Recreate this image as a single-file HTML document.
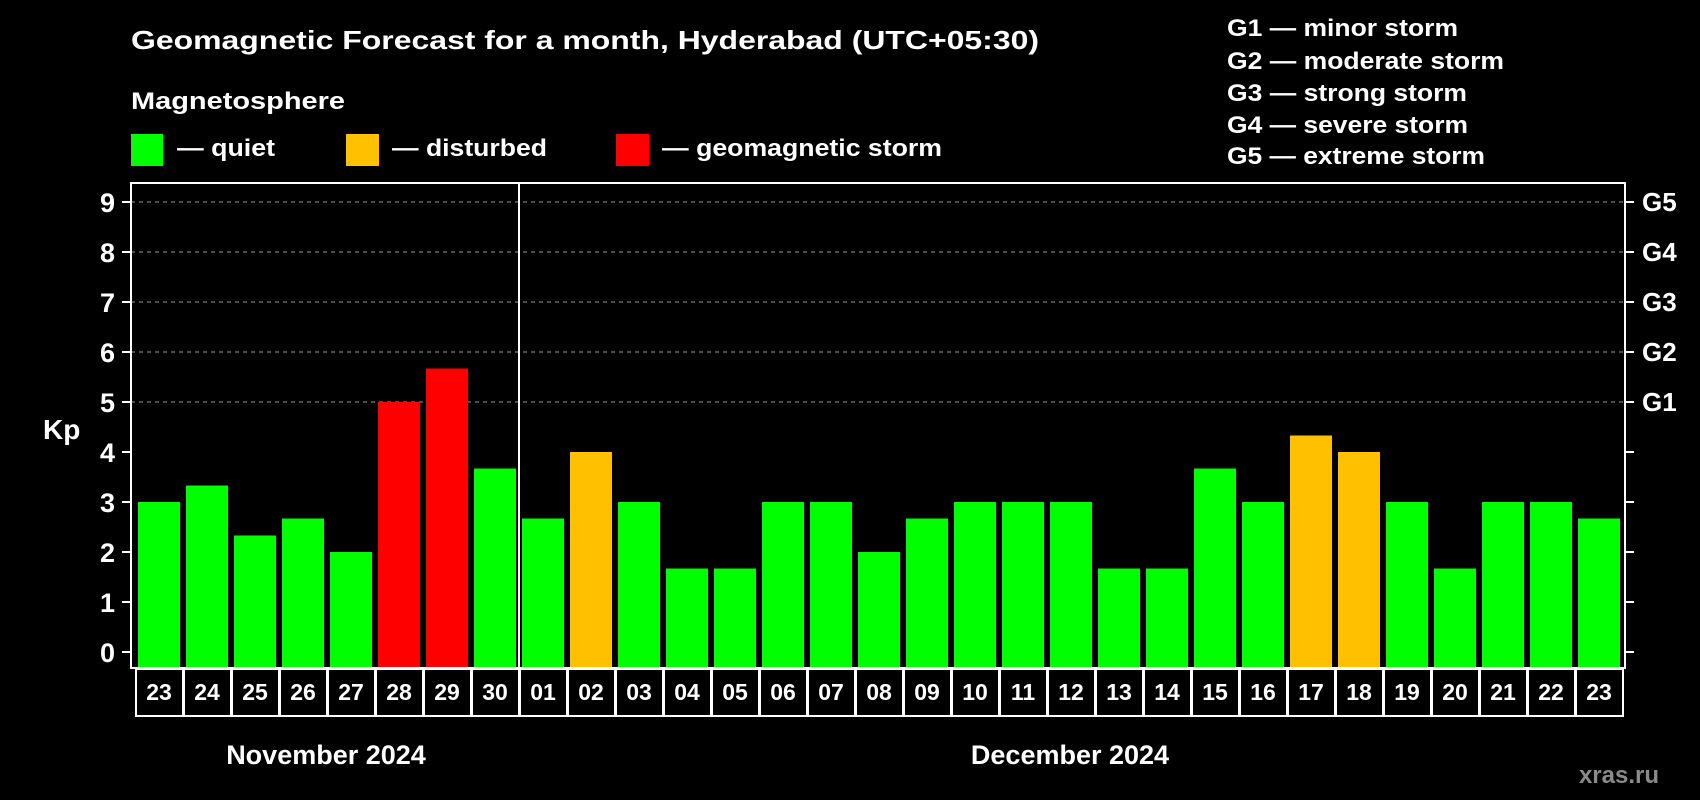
<!DOCTYPE html>
<html><head><meta charset="utf-8"><style>
html,body{margin:0;padding:0;background:#000;}
svg{display:block;font-family:"Liberation Sans",Arial,sans-serif;font-weight:bold;}
</style></head><body>
<svg id="chart" width="1700" height="800" viewBox="0 0 1700 800" xmlns="http://www.w3.org/2000/svg">
<rect width="1700" height="800" fill="#000"/>
<text x="131" y="49" fill="#fff" font-size="26" textLength="908" lengthAdjust="spacingAndGlyphs">Geomagnetic Forecast for a month, Hyderabad (UTC+05:30)</text>
<text x="131" y="109" fill="#fff" font-size="24" textLength="214" lengthAdjust="spacingAndGlyphs">Magnetosphere</text>
<g>
<rect x="131" y="134" width="32" height="32" fill="#00ff00"/>
<text x="177" y="156" fill="#fff" font-size="24" textLength="98" lengthAdjust="spacingAndGlyphs">— quiet</text></g>
<g>
<rect x="346" y="134" width="33" height="32" fill="#ffc000"/>
<text x="392" y="156" fill="#fff" font-size="24" textLength="155" lengthAdjust="spacingAndGlyphs">— disturbed</text></g>
<g>
<rect x="616" y="134" width="33" height="32" fill="#ff0000"/>
<text x="662" y="156" fill="#fff" font-size="24" textLength="280" lengthAdjust="spacingAndGlyphs">— geomagnetic storm</text></g>
<g font-size="24" fill="#fff">
<text x="1227" y="36" textLength="231" lengthAdjust="spacingAndGlyphs">G1 — minor storm</text>
<text x="1227" y="69" textLength="277" lengthAdjust="spacingAndGlyphs">G2 — moderate storm</text>
<text x="1227" y="101" textLength="240" lengthAdjust="spacingAndGlyphs">G3 — strong storm</text>
<text x="1227" y="133" textLength="241" lengthAdjust="spacingAndGlyphs">G4 — severe storm</text>
<text x="1227" y="164" textLength="258" lengthAdjust="spacingAndGlyphs">G5 — extreme storm</text>
</g>
<text x="43" y="439" fill="#fff" font-size="28">Kp</text>
<g id="grid"></g><g id="bars"></g><g id="axes"></g>
<text x="326" y="764" fill="#fff" font-size="27" text-anchor="middle">November 2024</text>
<text x="1070" y="764" fill="#fff" font-size="27" text-anchor="middle">December 2024</text>
<text x="1659" y="783" fill="#8a8a8a" font-size="24" text-anchor="end">xras.ru</text>
</svg>
<script>
const days = ["23","24","25","26","27","28","29","30","01","02","03","04","05","06","07","08","09","10","11","12","13","14","15","16","17","18","19","20","21","22","23"];
const kpValues = [3,3.33,2.33,2.67,2,5,5.67,3.67,2.67,4,3,1.67,1.67,3,3,2,2.67,3,3,3,1.67,1.67,3.67,3,4.33,4,3,1.67,3,3,2.67];
const yTicks = [0,1,2,3,4,5,6,7,8,9];
const gLabels = ["G1","G2","G3","G4","G5"];
const gLevels = [5,6,7,8,9];
const NS="http://www.w3.org/2000/svg";
const L=131,R=1625,T=183,B=668,slot0=135,pitch=48;
const y=v=>652-v*50;
const xs=i=>slot0+i*pitch;
function mk(tag,attrs,parent){const e=document.createElementNS(NS,tag);for(const k in attrs)e.setAttribute(k,attrs[k]);parent.appendChild(e);return e;}
const grid=document.getElementById('grid'),bars=document.getElementById('bars'),axes=document.getElementById('axes');
gLevels.forEach((v,i)=>{
 const ln=mk('line',{x1:L,x2:R,y1:y(v),y2:y(v),stroke:'#9a9a9a','stroke-width':1,'stroke-dasharray':'4,4'},grid);
 
 
 const t=mk('text',{x:1642,y:y(v)+9,fill:'#fff','font-size':26},axes);t.textContent=gLabels[i];
 
 
});
kpValues.forEach((v,i)=>{
 const c=v>=5?'#ff0000':(v>=4?'#ffc000':'#00ff00');
 const b=mk('rect',{x:xs(i)+3,y:y(v),width:42,height:B-y(v),fill:c},bars);
 
 
 const bx=mk('rect',{x:xs(i)+1,y:669,width:pitch-1,height:47,fill:'none',stroke:'#fff','stroke-width':2},axes);
 
 
 const t=mk('text',{x:xs(i)+24,y:700,fill:'#fff','font-size':23,'text-anchor':'middle'},axes);t.textContent=days[i];
 
 
});
yTicks.forEach(v=>{
 const l1=mk('line',{x1:122,x2:L,y1:y(v),y2:y(v),stroke:'#fff','stroke-width':2},axes);
 
 
 const l2=mk('line',{x1:R,x2:1634,y1:y(v),y2:y(v),stroke:'#fff','stroke-width':2},axes);
 
 
 const t=mk('text',{x:115,y:y(v)+10,fill:'#fff','font-size':27,'text-anchor':'end'},axes);t.textContent=v;
 
 
});
const fr=mk('rect',{x:L,y:T,width:R-L,height:B-T,fill:'none',stroke:'#fff','stroke-width':2},axes);


const sep=mk('line',{x1:xs(8),x2:xs(8),y1:T,y2:716,stroke:'#fff','stroke-width':2},axes);


</script>
</body></html>
